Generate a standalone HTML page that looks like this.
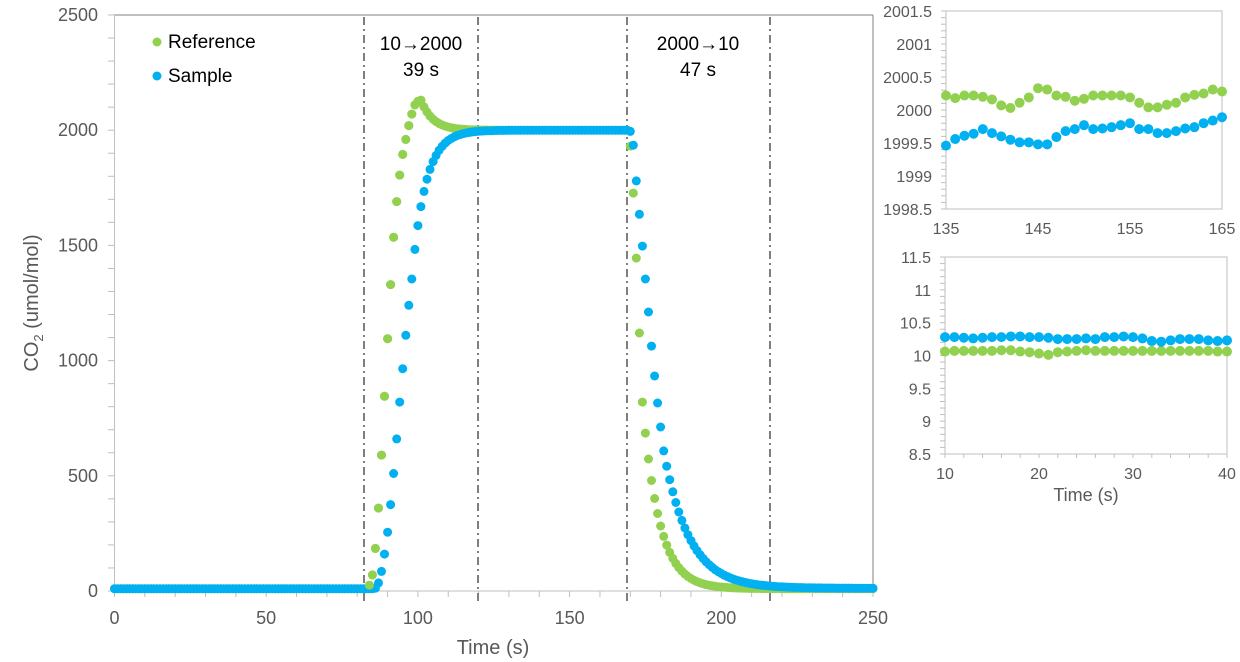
<!DOCTYPE html>
<html><head><meta charset="utf-8"><style>
html,body{margin:0;padding:0;background:#fff;width:1240px;height:662px;overflow:hidden}
svg text{font-family:"Liberation Sans",sans-serif}
</style></head><body>
<svg id="s" width="1240" height="662" xmlns="http://www.w3.org/2000/svg"></svg>
<script>
const s=document.getElementById('s');let h='';
const G='#92d050',B='#00b0f0',T='#595959',A='#bfbfbf';
const X=t=>114.5+t*3.034, Y=v=>591-v*0.2304;
h+=`<line x1="114.5" y1="15" x2="873" y2="15" stroke="#808080" stroke-width="1"/>`;
h+=`<line x1="873" y1="15" x2="873" y2="591" stroke="#808080" stroke-width="1"/>`;
h+=`<line x1="114.5" y1="15" x2="114.5" y2="591" stroke="${A}" stroke-width="1"/>`;
h+=`<line x1="114.5" y1="591" x2="873" y2="591" stroke="${A}" stroke-width="1"/>`;
for(let v=0;v<=2500;v+=100){const y=Y(v);h+=`<line x1="108" y1="${y}" x2="114.5" y2="${y}" stroke="${A}"/>`;
 if(v%500==0)h+=`<text x="98" y="${y+6}" font-size="18" fill="${T}" text-anchor="end">${v}</text>`;}
for(let t=0;t<=250;t+=10){const x=X(t);h+=`<line x1="${x}" y1="591" x2="${x}" y2="597" stroke="${A}"/>`;
 if(t%50==0)h+=`<text x="${x}" y="624" font-size="18" fill="${T}" text-anchor="middle">${t}</text>`;}
h+=`<text x="493" y="654" font-size="20" fill="${T}" text-anchor="middle">Time (s)</text>`;
h+=`<text transform="translate(38,303) rotate(-90)" font-size="20" fill="${T}" text-anchor="middle">CO<tspan font-size="13" dy="5">2</tspan><tspan dy="-5"> (umol/mol)</tspan></text>`;
[364,478,627,770].forEach(x=>{h+=`<line x1="${x}" y1="17" x2="${x}" y2="605" stroke="#7f7f7f" stroke-width="2" stroke-dasharray="8,4,2,4"/>`;});
h+=`<text x="421" y="50" font-size="19" fill="#000" text-anchor="middle">10→2000</text><text x="421" y="76" font-size="19" fill="#000" text-anchor="middle">39 s</text>`;
h+=`<text x="698" y="50" font-size="19" fill="#000" text-anchor="middle">2000→10</text><text x="698" y="76" font-size="19" fill="#000" text-anchor="middle">47 s</text>`;
h+=`<circle cx="157" cy="42" r="4.5" fill="${G}"/><text x="168" y="48" font-size="19" fill="#000">Reference</text>`;
h+=`<circle cx="157" cy="76" r="4.5" fill="${B}"/><text x="168" y="82" font-size="19" fill="#000">Sample</text>`;
const refUp={84:25,85:70,86:185,87:360,88:590,89:845,90:1095,91:1330,92:1535,93:1690,94:1805,95:1895,96:1960,97:2020,98:2070,99:2110,100:2125,101:2130};
const smpUp={86:12,87:35,88:85,89:160,90:255,91:375,92:510,93:660,94:820,95:965,96:1110,97:1240};
function ref(t){ if(t<84)return 10; if(t<=101)return refUp[t];
 if(t<170)return 2000+130*Math.exp(-(t-101)/4);
 const d={170:1931,171:1727,172:1445,173:1120,174:820};
 if(d[t]!==undefined)return d[t]; return 10+810*Math.exp(-(t-174)/5.5);}
function smp(t){ if(t<86)return 10; if(t<=97)return smpUp[t];
 if(t<170)return 2000-646*Math.exp(-(t-98)/4.5);
 const d={170:1995,171:1935,172:1780,173:1635,174:1497,175:1354,176:1211,177:1063,178:933,179:816,180:712,181:608};
 if(d[t]!==undefined)return d[t]; return 12+596*Math.exp(-(t-181)/8.5);}
let gr='',bl='';
for(let t=0;t<=250;t++){gr+=`<circle cx="${X(t).toFixed(1)}" cy="${Y(ref(t)).toFixed(1)}" r="4.5"/>`;}
for(let t=0;t<=250;t++){bl+=`<circle cx="${X(t).toFixed(1)}" cy="${Y(smp(t)).toFixed(1)}" r="4.5"/>`;}
h+=`<g fill="${G}">${gr}</g><g fill="${B}">${bl}</g>`;
let gr2='';for(let t=84;t<=102;t++)gr2+=`<circle cx="${X(t).toFixed(1)}" cy="${Y(ref(t)).toFixed(1)}" r="4.5"/>`;
h+=`<g fill="${G}">${gr2}</g>`;
function inset(x0,x1,y0,y1,xmin,xmax,ymin,ymax,yminor,ylabels,xlabels,gdat,bdat,xtitle,xminor){
 const px=t=>x0+(t-xmin)/(xmax-xmin)*(x1-x0), py=v=>y1-(v-ymin)/(ymax-ymin)*(y1-y0);
 let o=`<rect x="${x0}" y="${y0}" width="${x1-x0}" height="${y1-y0}" fill="none" stroke="${A}"/>`;
 for(let v=ymin;v<=ymax+1e-9;v+=yminor){const y=py(v);o+=`<line x1="${x0-5}" y1="${y}" x2="${x0}" y2="${y}" stroke="${A}"/>`;}
 ylabels.forEach(v=>{o+=`<text x="${x0-14}" y="${py(+v)+6}" font-size="16" fill="${T}" text-anchor="end">${v}</text>`;});
 if(xminor)for(let t=xmin;t<=xmax;t+=2){const x=px(t);o+=`<line x1="${x}" y1="${y1}" x2="${x}" y2="${y1+4}" stroke="${A}"/>`;}
 xlabels.forEach(t=>{o+=`<text x="${px(t)}" y="${y1+25}" font-size="16" fill="${T}" text-anchor="middle">${t}</text>`;});
 gdat.forEach((v,i)=>{o+=`<circle cx="${px(xmin+i)}" cy="${py(v)}" r="5" fill="${G}"/>`;});
 bdat.forEach((v,i)=>{o+=`<circle cx="${px(xmin+i)}" cy="${py(v)}" r="5" fill="${B}"/>`;});
 if(xtitle)o+=`<text x="${(x0+x1)/2}" y="${y1+47}" font-size="18" fill="${T}" text-anchor="middle">${xtitle}</text>`;
 return o;}
const g1=[2000.22,2000.18,2000.22,2000.22,2000.2,2000.16,2000.07,2000.03,2000.11,2000.19,2000.33,2000.31,2000.22,2000.2,2000.14,2000.17,2000.22,2000.22,2000.22,2000.22,2000.19,2000.11,2000.04,2000.04,2000.08,2000.11,2000.19,2000.23,2000.25,2000.31,2000.28];
const b1=[1999.46,1999.56,1999.61,1999.64,1999.71,1999.65,1999.6,1999.55,1999.51,1999.51,1999.48,1999.48,1999.59,1999.68,1999.71,1999.77,1999.71,1999.72,1999.74,1999.77,1999.8,1999.71,1999.71,1999.65,1999.65,1999.68,1999.72,1999.74,1999.8,1999.84,1999.89];
h+=inset(946,1222,11,209,135,165,1998.5,2001.5,0.1,["1998.5","1999","1999.5","2000","2000.5","2001","2001.5"],[135,145,155,165],g1,b1,null,false);
const g2=[10.06,10.07,10.07,10.07,10.07,10.07,10.08,10.08,10.06,10.05,10.03,10.01,10.05,10.06,10.07,10.08,10.07,10.07,10.07,10.07,10.07,10.07,10.07,10.07,10.07,10.07,10.07,10.07,10.07,10.06,10.06];
const b2=[10.28,10.28,10.27,10.26,10.27,10.28,10.28,10.29,10.29,10.28,10.28,10.27,10.25,10.25,10.25,10.26,10.25,10.28,10.28,10.29,10.28,10.26,10.22,10.21,10.23,10.25,10.25,10.25,10.23,10.22,10.23];
h+=inset(945,1227,257,454,10,40,8.5,11.5,0.1,["8.5","9","9.5","10","10.5","11","11.5"],[10,20,30,40],g2,b2,"Time (s)",true);
s.innerHTML=h;
</script>
</body></html>
